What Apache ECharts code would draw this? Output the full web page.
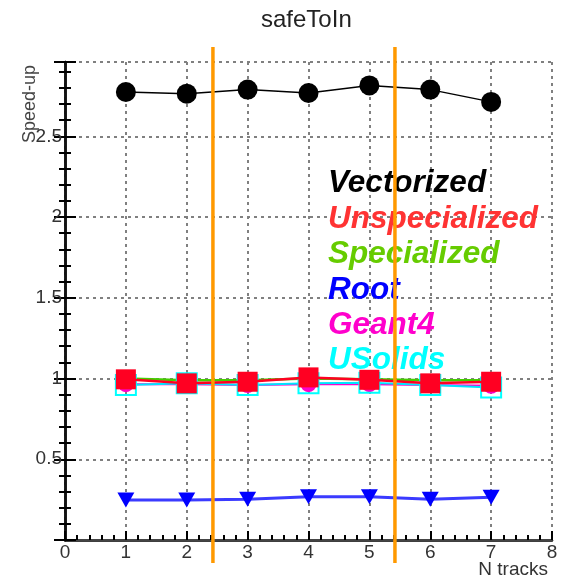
<!DOCTYPE html>
<html>
<head>
<meta charset="utf-8">
<script src="https://cdn.jsdelivr.net/npm/echarts@6/dist/echarts.min.js"></script>
<style>
  html, body { margin: 0; padding: 0; background: #fff; }
  #chart { width: 568px; height: 579px; }
</style>
</head>
<body>
<div id="chart"></div>
<script>
// Speed-up of safeToIn versus number of tracks, per implementation
const nTracks = [1, 2, 3, 4, 5, 6, 7];
const vectorized = [2.774, 2.764, 2.789, 2.768, 2.815, 2.789, 2.713];
const unspecialized = [0.995, 0.970, 0.980, 1.007, 0.992, 0.970, 0.980];
const specialized = [1.000, 0.990, 0.990, 1.000, 0.995, 0.990, 0.990];
const rootValues = [0.248, 0.248, 0.252, 0.268, 0.268, 0.252, 0.265];
const geant4 = [0.965, 0.965, 0.960, 0.965, 0.965, 0.960, 0.955];
const usolids = [0.960, 0.970, 0.960, 0.970, 0.974, 0.960, 0.945];

// vertical reference lines (in N tracks units)
const cutLines = [2.43, 5.42];

const legendNames = ['Vectorized', 'Unspecialized', 'Specialized', 'Root', 'Geant4', 'USolids'];
const legendColors = ['#000000', '#ff3333', '#66cc00', '#0000ff', '#ff00cc', '#00ffff'];

const FONT = "'Liberation Sans', Arial, Helvetica, sans-serif";

function pairs(values) {
  return nTracks.map((n, i) => [n, values[i]]);
}

const chart = echarts.init(document.getElementById('chart'), null, { renderer: 'canvas' });

const dotted = { type: [3, 4], color: '#808080', width: 2 };

const option = {
  animation: false,
  backgroundColor: '#ffffff',
  title: {
    text: 'safeToIn',
    left: 256,
    top: 3,
    textStyle: { fontFamily: FONT, fontSize: 24, fontWeight: 'normal', color: '#222' }
  },
  legend: {
    orient: 'vertical',
    left: 322,
    top: 166,
    padding: 0,
    itemGap: 0,
    itemWidth: 0,
    itemHeight: 0,
    selectedMode: false,
    data: legendNames.map((name, i) => ({
      name: name,
      icon: 'rect',
      itemStyle: { opacity: 0 },
      textStyle: { color: legendColors[i] }
    })),
    textStyle: {
      fontFamily: FONT,
      fontSize: 31.5,
      fontStyle: 'italic',
      fontWeight: 'bold',
      lineHeight: 35.4
    }
  },
  grid: {
    left: 65, right: 16, top: 62, bottom: 39,
    containLabel: false,
    outerBoundsMode: 'none'
  },
  xAxis: [
    {
      type: 'value',
      position: 'bottom',
      min: 0,
      max: 8,
      interval: 1,
      axisLine: { show: true, lineStyle: { color: '#000', width: 2.5 } },
      axisTick: { show: true, inside: true, length: 9, lineStyle: { color: '#000', width: 2 } },
      minorTick: { show: true, splitNumber: 5, length: 5, lineStyle: { color: '#000', width: 2 } },
      axisLabel: { fontFamily: FONT, fontSize: 19, color: '#333', margin: 3 },
      splitLine: { show: true, lineStyle: dotted }
    },
    {
      type: 'value',
      position: 'top',
      min: 0,
      max: 8,
      interval: 1,
      axisLine: { show: true, lineStyle: { color: '#444', width: 2 } },
      axisTick: { show: false },
      axisLabel: { show: false },
      splitLine: { show: false }
    }
  ],
  yAxis: [
    {
      type: 'value',
      position: 'left',
      min: 0,
      max: 2.96,
      interval: 0.5,
      axisLine: { show: true, lineStyle: { color: '#000', width: 2.5 } },
      axisTick: { show: true, inside: true, length: 11, lineStyle: { color: '#000', width: 2 } },
      minorTick: { show: true, splitNumber: 5, length: 6, lineStyle: { color: '#000', width: 2 } },
      axisLabel: {
        fontFamily: FONT, fontSize: 19, color: '#333', margin: 3,
        showMinLabel: false, showMaxLabel: false
      },
      splitLine: { show: true, lineStyle: dotted }
    },
    {
      type: 'value',
      position: 'right',
      min: 0,
      max: 2.96,
      interval: 0.5,
      axisLine: { show: true, lineStyle: { color: '#111', width: 2.5 } },
      axisTick: { show: true, inside: true, length: 11, lineStyle: { color: '#000', width: 2 } },
      minorTick: { show: true, splitNumber: 5, length: 6, lineStyle: { color: '#000', width: 2 } },
      axisLabel: { show: false },
      splitLine: { show: false }
    }
  ],
  series: [
    {
      name: 'Vectorized',
      type: 'line',
      data: pairs(vectorized),
      symbol: 'circle',
      symbolSize: 20,
      itemStyle: { color: '#000' },
      lineStyle: { color: '#000', width: 1.5 },
      z: 3
    },
    {
      name: 'Specialized',
      type: 'line',
      data: pairs(specialized),
      symbol: 'triangle',
      symbolSize: 14,
      itemStyle: { color: '#44cc00' },
      lineStyle: { color: '#44cc00', width: 2.5 },
      z: 3
    },
    {
      name: 'Root',
      type: 'line',
      data: pairs(rootValues),
      symbol: 'triangle',
      symbolRotate: 180,
      symbolSize: [17, 15],
      itemStyle: { color: '#0000ff' },
      lineStyle: { color: '#3b3bff', width: 3 },
      z: 3
    },
    {
      name: 'Geant4',
      type: 'line',
      data: pairs(geant4),
      symbol: 'circle',
      symbolSize: 16,
      itemStyle: { color: '#ff00cc' },
      lineStyle: { color: '#ff00cc', width: 2 },
      z: 4
    },
    {
      name: 'USolids',
      type: 'line',
      data: pairs(usolids),
      symbol: 'rect',
      symbolSize: 20,
      itemStyle: { color: 'rgba(0,0,0,0)', borderColor: '#00ffff', borderWidth: 2 },
      lineStyle: { color: '#00e5ff', width: 2 },
      z: 4
    },
    {
      name: 'Unspecialized',
      type: 'line',
      data: pairs(unspecialized),
      symbol: 'rect',
      symbolSize: 20,
      itemStyle: { color: '#ff0022' },
      lineStyle: { color: '#ff0022', width: 2.5 },
      z: 5
    }
  ]
};

chart.setOption(option);

// Axis titles and the orange reference lines, placed through the axis scales
const lineTop = 47;
const lineBottom = 563;
const graphics = cutLines.map((v) => {
  const x = chart.convertToPixel({ xAxisIndex: 0 }, v);
  return {
    type: 'line',
    shape: { x1: x, y1: lineTop, x2: x, y2: lineBottom },
    style: { stroke: '#ff9900', lineWidth: 3.5 },
    z: 100
  };
});
graphics.push({
  type: 'text',
  x: 30,
  y: 104,
  rotation: Math.PI / 2,
  style: {
    text: 'Speed-up',
    fontFamily: FONT,
    fontSize: 18,
    fill: '#444',
    align: 'center',
    verticalAlign: 'middle'
  },
  z: 50
});
graphics.push({
  type: 'text',
  x: 548,
  y: 570,
  style: {
    text: 'N tracks',
    fontFamily: FONT,
    fontSize: 19,
    fill: '#333',
    align: 'right',
    verticalAlign: 'middle'
  },
  z: 50
});
chart.setOption({ graphic: graphics });
</script>
</body>
</html>
